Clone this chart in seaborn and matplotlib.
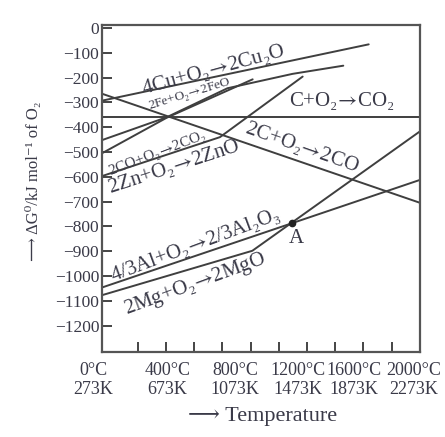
import matplotlib
matplotlib.use("Agg")
import matplotlib.pyplot as plt
import matplotlib.transforms as mtransforms
import numpy as np
import pandas as pd
import seaborn as sns

# ---------------- data ----------------
cu_T = [0, 1680]
cu_G = [-293, -66]

feo_T = [0, 407, 790, 1200, 1520]
feo_G = [-452, -360, -243, -185, -152]

co2co_T = [0, 407, 949]
co2co_G = [-505, -362, -207]

zn_T = [0, 743, 1264]
zn_G = [-597, -440, -196]

c_co2_T = [0, 2000]
c_co2_G = [-357, -357]

c_co_T = [0, 2000]
c_co_G = [-265, -704]

al_T = [0, 2000]
al_G = [-1046, -613]

mg_T = [0, 947, 2000]
mg_G = [-1077, -898, -418]

point_A_T = [1195]
point_A_G = [-786]

yticks = [0, -100, -200, -300, -400, -500, -600, -700, -800, -900, -1000, -1100, -1200]
ytick_labels = ["0", "−100", "−200", "−300", "−400", "−500", "−600", "−700",
                "−800", "−900", "−1000", "−1100", "−1200"]
xtick_C = [0, 400, 800, 1200, 1600, 2000]
xtick_labels = ["0°C\n273K", "400°C\n673K", "800°C\n1073K", "1200°C\n1473K",
                "1600°C\n1873K", "2000°C\n2273K"]

series = {
    "Cu2O": (cu_T, cu_G),
    "FeO": (feo_T, feo_G),
    "CO2_from_CO": (co2co_T, co2co_G),
    "ZnO": (zn_T, zn_G),
    "CO2": (c_co2_T, c_co2_G),
    "CO": (c_co_T, c_co_G),
    "Al2O3": (al_T, al_G),
    "MgO": (mg_T, mg_G),
}
rows = []
for name, (ts, gs) in series.items():
    for t, g in zip(ts, gs):
        rows.append({"reaction": name, "T": t, "G": g})
df = pd.DataFrame(rows)

# ---------------- style ----------------
sns.set_theme(style="ticks")
plt.rcParams["font.family"] = ["Liberation Serif", "DejaVu Serif"]
plt.rcParams["mathtext.fontset"] = "stix"

LINE = "#3f3f3f"
TXT = "#3a3a48"
ARW = r"$\!\rightarrow\!$"

fig = plt.figure(figsize=(4.45, 4.37), dpi=100)
ax = fig.add_axes([0.2292, 0.1945, 0.7135, 0.7483])

sns.lineplot(data=df, x="T", y="G", hue="reaction", units="reaction",
             estimator=None, sort=False, legend=False,
             palette={k: LINE for k in series}, linewidth=1.4, ax=ax)
ax.plot(point_A_T, point_A_G, "o", color="#222222", markersize=4.5, zorder=5)

ax.set_xlim(0, 2000)
ax.set_ylim(-1306, 12)

ax.set_yticks(yticks)
ax.set_yticklabels(ytick_labels)
ax.set_xticks(xtick_C)
ax.set_xticklabels(xtick_labels, linespacing=1.15)
ax.set_xticks(np.linspace(225, 1825, 10), minor=True)

ax.tick_params(axis="y", direction="in", length=7, width=1.4, color="#444444",
               labelsize=12.5, labelcolor=TXT, pad=2)
ax.tick_params(axis="x", which="major", length=0, labelsize=13,
               labelcolor=TXT, pad=7)
ax.tick_params(axis="x", which="minor", direction="in", length=7, width=1.4,
               color="#444444")

for s in ax.spines.values():
    s.set_visible(True)
    s.set_color("#555555")
    s.set_linewidth(1.6)

# nudge x labels like the original
shifts = [-9, 2, 6, 5, -2, -6]
for lbl, dx in zip(ax.get_xticklabels(), shifts):
    lbl.set_transform(lbl.get_transform() +
                      mtransforms.ScaledTranslation(dx / 100, 0, fig.dpi_scale_trans))

ax.set_xlabel("⟶ Temperature", fontsize=16, color=TXT, va="center")
ax.xaxis.set_label_coords(0.507, -0.198)
ax.set_ylabel("⟶ ΔG⁰/kJ mol⁻¹ of O₂", fontsize=12, color=TXT, va="center")
ax.yaxis.set_label_coords(-0.214, 0.523)

def lab(x, y, s, rot, fs):
    ax.text(x, y, s, rotation=rot, fontsize=fs, color=TXT, ha="center",
            va="center", rotation_mode="anchor")

lab(699, -168, "4Cu+O₂" + ARW + "2Cu₂O", 15.2, 15)
lab(554, -266, "2Fe+O₂" + ARW + "2FeO", 17, 9.5)
lab(1512, -295, "C+O₂" + ARW + "CO₂", 0, 15)
lab(1262, -480, "2C+O₂" + ARW + "2CO", -19.4, 15)
lab(350, -505, "2CO+O₂" + ARW + "2CO₂", 21, 11)
lab(452, -560, "2Zn+O₂" + ARW + "2ZnO", 18.2, 15)
lab(590, -876, "4/3Al+O₂" + ARW + "2/3Al₂O₃", 20.4, 15)
lab(585, -1035, "2Mg+O₂" + ARW + "2MgO", 20.2, 15)
lab(1227, -848, "A", 0, 15)

fig.savefig("out.png", dpi=100)
